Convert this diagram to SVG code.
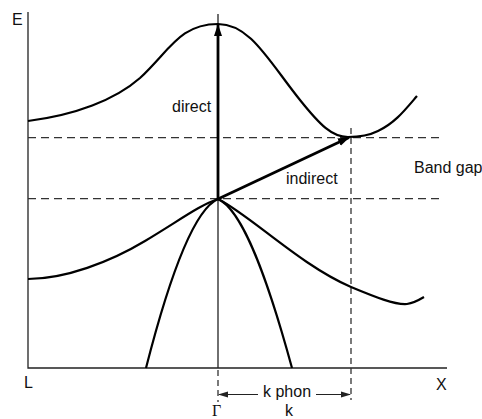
<svg xmlns="http://www.w3.org/2000/svg" width="482" height="419" viewBox="0 0 482 419">
<style>
text{font-family:"Liberation Sans",Arial,sans-serif;font-size:16px;fill:#111}
.ax{stroke:#222;stroke-width:1.3;fill:none}
.dash{stroke:#333;stroke-width:1.3;fill:none;stroke-dasharray:8 5}
.vdash{stroke:#333;stroke-width:1.3;fill:none;stroke-dasharray:6 4}
.band{stroke:#000;stroke-width:2.2;fill:none}
.arr{stroke:#000;stroke-width:2.8;fill:none}
.thin{stroke:#222;stroke-width:1.2;fill:none}
</style>
<defs>
<marker id="big" markerWidth="12" markerHeight="10" refX="11" refY="5" orient="auto" markerUnits="userSpaceOnUse">
<path d="M0,1 L12,5 L0,9 Z" fill="#000"/>
</marker>
<marker id="small" markerWidth="10" markerHeight="8" refX="9" refY="4" orient="auto" markerUnits="userSpaceOnUse">
<path d="M0,1 L10,4 L0,7 Z" fill="#222"/>
</marker>
</defs>
<g id="axes">
<path class="ax" d="M28,12 V368 H447"/>
<path class="ax" d="M218,14 V368"/>
<path class="vdash" d="M218,370 V402"/>
<path class="vdash" d="M351,128 V400"/>
<path class="dash" d="M28,137.7 H443"/>
<path class="dash" d="M28,198.7 H443"/>
</g>
<g id="bands">
<path id="conduction" class="band" d="M28,121 C 75,115 115,100 140,78 C 170,50 180,24 218,24 C 250,24 268,60 300,100 C 320,125 332,137 348,137 C 360,137 368,136 378,131 C 395,123 405,110 417,96"/>
<path id="heavyhole" class="band" d="M28,279 C 65,279 110,262 145,241 C 180,220 200,205 218,199 C 250,215 300,265 351,287 C 375,297 395,305 407,304 C 414,303 419,300 424,297"/>
<path id="lighthole" class="band" d="M146,368 C 168,282 193,210 218,199 C 243,210 268,280 292,368"/>
</g>
<g id="connectors">
<line class="arr" x1="218" y1="199" x2="218" y2="25" marker-end="url(#big)"/>
<line class="arr" x1="218" y1="199" x2="349" y2="137.5" marker-end="url(#big)"/>
<line class="thin" x1="258" y1="394.5" x2="219" y2="394.5" marker-end="url(#small)"/>
<line class="thin" x1="316" y1="394.5" x2="350" y2="394.5" marker-end="url(#small)"/>
</g>
<g id="labels">
<text x="12" y="25">E</text>
<text x="24" y="388">L</text>
<text x="436" y="390">X</text>
<text x="212" y="416" style="font-family:'Liberation Serif','Times New Roman',serif">Γ</text>
<text x="285" y="416">k</text>
<text x="263" y="397">k phon</text>
<text x="172" y="112">direct</text>
<text x="286" y="184">indirect</text>
<text x="414" y="173">Band gap</text>
</g>
</svg>
